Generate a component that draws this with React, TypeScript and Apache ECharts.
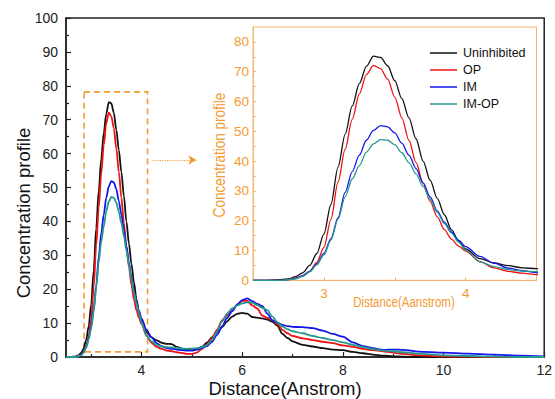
import { useEffect, useRef } from 'react';
import * as echarts from 'echarts';

const xs = [
  2.5, 2.6, 2.7,
  2.75, 2.8, 2.85, 2.9, 2.95, 3.0, 3.05, 3.1, 3.15, 3.2, 3.25, 3.3, 3.35, 3.4, 3.45, 3.5, 3.55, 3.6, 3.65, 3.7, 3.75, 3.8, 3.85, 3.9, 3.95, 4.0,
  4.1, 4.2, 4.3, 4.4, 4.5, 4.6, 4.7, 4.8, 4.9, 5.0, 5.1, 5.2, 5.3, 5.4, 5.5, 5.6, 5.7, 5.8, 5.9, 6.0, 6.1, 6.2, 6.3, 6.4, 6.5, 6.6, 6.7, 6.8, 6.9, 7.0,
  7.2, 7.4, 7.6, 7.8, 8.0, 8.2, 8.4, 8.6, 8.8, 9.0, 9.2,
  9.5, 10, 10.5, 11, 11.5, 12,
];

const uninhibited = [
  0, 0, 0.2,
  0.5, 1.2, 2.5, 5, 9, 15.5, 25.5, 38, 49, 58.5, 66, 71.8, 75.2, 74.8, 72, 67, 61, 54.5, 47.5, 40, 33.5, 27.5, 22, 17, 13.2, 10.5,
  7.3, 5.8, 4.9, 4.2, 3.9, 3.8, 3.0, 2.5, 2.2, 2.0, 2.3, 3.0, 4.2, 5.8, 7.3, 8.8, 10.5, 11.9, 12.7, 13.0, 12.8, 11.8, 11.6, 11.4, 11.0, 10.4, 9.2, 6.8, 5.6, 4.6,
  3.6, 3.1, 2.6, 2.2, 2.0, 1.5, 1.1, 0.7, 0.4, 0.2, 0.1,
  0, 0, 0, 0, 0, 0,
];

const op = [
  0, 0, 0,
  0.3, 0.7, 1.5, 3, 6, 11, 20.5, 33, 44, 54, 62.5, 69, 72.1, 71, 67.5, 61.5, 54.5, 47, 39.5, 32.5, 26.5, 21.3, 17, 13.8, 11.5, 9.8,
  6.3, 4.2, 3.0, 2.4, 1.9, 1.7, 1.4, 1.2, 0.9, 0.9, 1.3, 2.4, 3.8, 5.5, 8.0, 10.8, 12.3, 13.6, 15.3, 16.6, 16.6, 15.2, 14.3, 12.2, 11.5, 10.8, 9.7, 8.0, 7.0, 6.2,
  5.5, 5.0, 4.5, 4.1, 3.4, 3.0, 2.4, 2.0, 1.7, 1.3, 0.9,
  0.5, 0.2, 0.1, 0, 0, 0,
];

const im = [
  0, 0, 0,
  0.2, 0.6, 1.5, 3, 5.5, 9, 14, 21, 29.5, 36.5, 42, 47, 50.3, 51.9, 51.5, 49.5, 46, 42, 37.5, 32.7, 28, 23.3, 19.5, 16.2, 13.5, 11.3,
  8.0, 5.8, 4.1, 3.2, 2.6, 2.4, 2.2, 2.0, 1.9, 1.9, 2.2, 2.7, 3.2, 4.5, 6.5, 9.0, 11.5, 13.5, 15.5, 16.8, 17.3, 16.5, 15.7, 15.0, 12.8, 10.8, 10.1, 9.5, 9.1, 8.9,
  8.8, 8.5, 7.8, 6.8, 6.0, 4.3, 3.2, 2.6, 2.1, 2.2, 2.1,
  1.6, 1.3, 1.0, 0.7, 0.4, 0.2,
];

const imop = [
  0, 0, 0,
  0.2, 0.5, 1.3, 2.8, 5.2, 8.5, 13.5, 20.5, 28, 34, 38.5, 43, 45.8, 47.2, 47, 45.5, 42.8, 39.5, 35.7, 31.5, 27.2, 22.8, 19, 15.8, 12.8, 10.2,
  6.2, 4.6, 3.6, 3.1, 2.9, 2.8, 2.7, 2.5, 2.4, 2.5, 2.6, 2.9, 3.5, 5.0, 7.5, 10.5, 12.8, 14.3, 15.2, 15.8, 16.1, 16.0, 15.3, 14.5, 13.8, 11.9, 10.2, 9.0, 8.2, 7.6,
  7.0, 6.2, 5.6, 5.0, 4.3, 3.6, 2.9, 2.3, 1.9, 1.7, 1.4,
  1.0, 0.5, 0.3, 0.1, 0, 0,
];

const seriesNames = ['Uninhibited', 'OP', 'IM', 'IM-OP'];
const seriesValues = [uninhibited, op, im, imop];
const seriesColors = ['#111111', '#ee1111', '#1515ee', '#239a8b'];

const mainXLabels = [4, 6, 8, 10, 12];
const mainXMinor = [3, 5, 7, 9, 11];
const insetXLabels = [3, 4];
const insetXTicks = [3, 3.5, 4];
const insetYLabels = [0, 10, 20, 30, 40, 50, 60, 70, 80];
const insetYTicks = [0, 5, 10, 15, 20, 25, 30, 35, 40, 45, 50, 55, 60, 65, 70, 75, 80];

// zoom box (data coords) and arrow
const zoomBox = { x0: 2.86, x1: 4.12, y0: 1.5, y1: 78.2 };
const arrow = { x0: 4.22, x1: 5.09, y: 58.1 };

const MAIN_FONT = 'Liberation Sans, Arial, Helvetica, sans-serif';
const ORANGE = '#f39a33';
const ORANGE_LINE = '#f7b56e';
const AXIS = '#222222';
const NARROW = 0.82;

export default function App() {
  const ref = useRef<HTMLDivElement>(null);
  useEffect(() => {
    const chart = echarts.init(ref.current!, undefined, { renderer: 'svg' });
    const pairs = (vals: number[]) => xs.map((x, i) => [x, vals[i]]);

    const mainSeries: any[] = seriesNames.map((name, k) => ({
      name,
      type: 'line',
      xAxisIndex: 0,
      yAxisIndex: 0,
      data: pairs(seriesValues[k]),
      symbol: 'none',
      smooth: 0.3,
      smoothMonotone: 'x',
      lineStyle: { color: seriesColors[k], width: 1.8 },
      itemStyle: { color: seriesColors[k] },
      z: 3 + k,
    }));
    mainSeries[0].markArea = {
      silent: true,
      itemStyle: { color: 'rgba(0,0,0,0)', borderColor: ORANGE, borderWidth: 1.6, borderType: [6, 4] },
      data: [[{ coord: [zoomBox.x0, zoomBox.y1] }, { coord: [zoomBox.x1, zoomBox.y0] }]],
    };
    mainSeries[0].markLine = {
      silent: true,
      symbol: ['none', 'arrow'],
      symbolSize: [7, 8],
      label: { show: false },
      lineStyle: { color: ORANGE, type: 'dotted', width: 1.2 },
      data: [[{ coord: [arrow.x0, arrow.y] }, { coord: [arrow.x1, arrow.y] }]],
    };

    const insetSeries = seriesNames.map((name, k) => ({
      name,
      type: 'line',
      xAxisIndex: 1,
      yAxisIndex: 1,
      data: pairs(seriesValues[k]),
      symbol: 'none',
      smooth: 0.3,
      smoothMonotone: 'x',
      clip: true,
      lineStyle: { color: seriesColors[k], width: 1.3 },
      itemStyle: { color: seriesColors[k] },
      z: 10 + k,
    }));

    const option: any = {
      animation: false,
      backgroundColor: '#ffffff',
      textStyle: { fontFamily: MAIN_FONT },
      grid: [
        { left: 66, top: 18, width: 480, height: 339, show: true, borderColor: AXIS, borderWidth: 1.5, backgroundColor: 'rgba(0,0,0,0)' },
        { left: 253, top: 27, width: 283.5, height: 253.3, show: true, borderColor: ORANGE_LINE, borderWidth: 1, backgroundColor: '#ffffff' },
      ],
      legend: {
        orient: 'vertical',
        left: 425,
        top: 41,
        itemWidth: 27,
        itemHeight: 1.5,
        itemGap: 3,
        icon: 'rect',
        data: seriesNames,
        textStyle: { fontSize: 12.5, fontFamily: MAIN_FONT, color: '#111', lineHeight: 14, padding: [0, 0, 0, 1] },
      },
      xAxis: [
        {
          type: 'value', gridIndex: 0, min: 2.5, max: 12, position: 'bottom',
          axisLine: { show: true, lineStyle: { color: AXIS, width: 1.5 } },
          axisTick: { show: true, inside: true, length: 5, customValues: mainXLabels, lineStyle: { color: AXIS, width: 1.2 } },
          axisLabel: { customValues: mainXLabels, fontSize: 14, color: AXIS, margin: 6, fontFamily: MAIN_FONT },
          splitLine: { show: false },
        },
        {
          type: 'value', gridIndex: 1, min: 2.5, max: 4.5, position: 'bottom',
          axisLine: { show: true, lineStyle: { color: ORANGE_LINE, width: 1 } },
          axisTick: { show: true, inside: true, length: 3, customValues: insetXTicks, lineStyle: { color: ORANGE_LINE } },
          axisLabel: { customValues: insetXLabels, fontSize: 13.5, color: ORANGE, margin: 6, fontFamily: MAIN_FONT },
          splitLine: { show: false },
        },
        {
          type: 'value', gridIndex: 0, min: 2.5, max: 12, position: 'bottom',
          axisLine: { show: false },
          axisTick: { show: true, inside: true, length: 3, customValues: mainXMinor, lineStyle: { color: AXIS, width: 1.2 } },
          axisLabel: { show: false },
          splitLine: { show: false },
        },
      ],
      yAxis: [
        {
          type: 'value', gridIndex: 0, min: 0, max: 100, interval: 10,
          axisLine: { show: true, lineStyle: { color: AXIS, width: 1.5 } },
          axisTick: { show: true, inside: true, length: 5, lineStyle: { color: AXIS, width: 1.2 } },
          minorTick: { show: true, splitNumber: 2, length: 3, lineStyle: { color: AXIS, width: 1.2 } },
          axisLabel: { fontSize: 14, color: AXIS, margin: 8, fontFamily: MAIN_FONT },
          splitLine: { show: false },
          minorSplitLine: { show: false },
        },
        {
          type: 'value', gridIndex: 1, min: 0, max: 85,
          axisLine: { show: true, lineStyle: { color: ORANGE_LINE, width: 1 } },
          axisTick: { show: true, inside: true, length: 3, customValues: insetYTicks, lineStyle: { color: ORANGE_LINE } },
          axisLabel: { customValues: insetYLabels, fontSize: 13.5, color: ORANGE, margin: 4, fontFamily: MAIN_FONT },
          splitLine: { show: false },
        },
      ],
      graphic: [
        {
          type: 'text', x: 23, y: 213, rotation: Math.PI / 2,
          style: { text: 'Concentration profile', fontSize: 18.5, fontFamily: MAIN_FONT, fill: '#111', align: 'center', verticalAlign: 'middle' },
        },
        {
          type: 'text', x: 285, y: 388,
          style: { text: 'Distance(Anstrom)', fontSize: 18.5, fontFamily: MAIN_FONT, fill: '#111', align: 'center', verticalAlign: 'middle' },
        },
        {
          type: 'text', x: 219, y: 155, rotation: Math.PI / 2, scaleX: NARROW, z: 20,
          style: { text: 'Concentration profile', fontSize: 16.5, fontFamily: MAIN_FONT, fill: ORANGE, align: 'center', verticalAlign: 'middle' },
        },
        {
          type: 'text', x: 404, y: 302, scaleX: NARROW, z: 20,
          style: { text: 'Distance(Aanstrom)', fontSize: 14, fontFamily: MAIN_FONT, fill: ORANGE, align: 'center', verticalAlign: 'middle' },
        },
      ],
      series: [...mainSeries, ...insetSeries],
    };
    chart.setOption(option);
    return () => chart.dispose();
  }, []);
  return <div ref={ref} style={{ position: 'fixed', left: 0, top: 0, width: 555, height: 399 }} />;
}
